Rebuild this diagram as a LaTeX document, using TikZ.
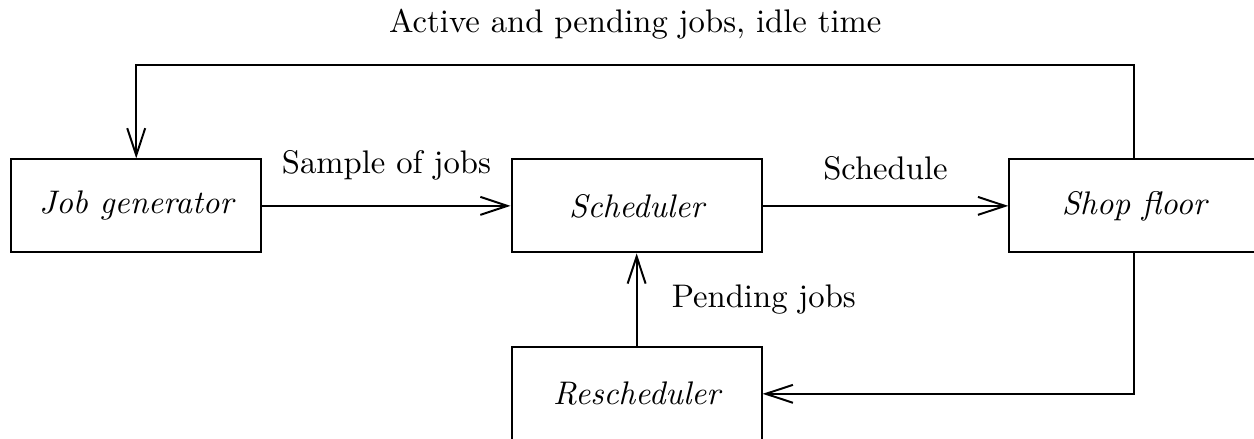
\documentclass[tikz,border=0pt]{standalone}
\usepackage{tikz}
\usetikzlibrary{arrows.meta,positioning}

\tikzset{
  block/.style={draw,semithick,minimum width=2.69cm,minimum height=1cm,font=\itshape},
  flow/.style={->,semithick}
}

\begin{document}
\begin{tikzpicture}[>={Straight Barb[length=8.3pt,width=5.5pt]}]
\useasboundingbox (-1.465,-2.497) rectangle (12.02,2.214);
% the three blocks in a row, the rescheduler under the scheduler
\node[block] (gen) at (0,0) {Job generator};
\node[block,right=2.67cm of gen] (sched) {Scheduler};
\node[block,right=2.64cm of sched] (floor) {Shop floor};
\node[block,below=1cm of sched] (resched) {Rescheduler};
% forward flow
\draw[flow] (gen) -- node[above=1.5mm] {Sample of jobs} (sched);
\draw[flow] (sched) -- node[above=1.5mm] {Schedule} (floor);
\draw[flow] (resched) -- node[right=2.5mm] {Pending jobs} (sched);
% feedback from the shop floor
\draw[flow] (floor.north) -- ++(0,1cm) -| node[pos=0.25,above=1.5mm] {Active and pending jobs, idle time} (gen.north);
\draw[flow] (floor.south) |- (resched.east);
\end{tikzpicture}
\end{document}
